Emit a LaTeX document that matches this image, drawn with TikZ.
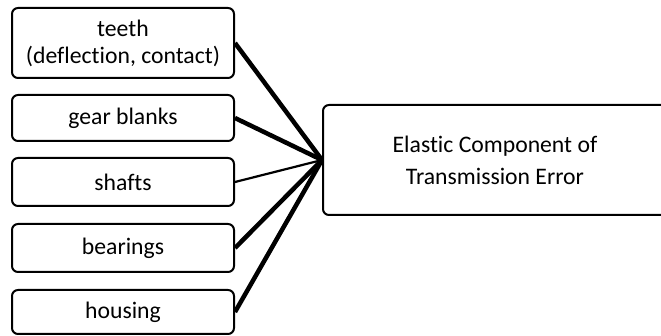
\documentclass[tikz,border=0pt]{standalone}
\usepackage{fontspec}
\setmainfont{Carlito}[Ligatures=NoCommon]
\begin{document}
\begin{tikzpicture}[x=1pt,y=-1pt,
  box/.style={draw, line width=2pt, rounded corners=6pt, fill=white,
    minimum width=222pt, inner sep=0pt, align=center,
    font=\fontsize{23.7}{27}\selectfont},
  strong/.style={line width=4.5pt},
  light/.style={line width=2.2pt}]
\useasboundingbox (0,0) rectangle (661,336);
% factors on the left
\node[box, minimum height=70pt] (teeth) at (123,43) {teeth\\(deflection, contact)};
\node[box, minimum height=46pt] (blanks) at (123,118) {gear blanks};
\node[box, minimum height=48pt] (shafts) at (123,182) {shafts};
\node[box, minimum height=48pt] (bearings) at (123,248) {bearings};
\node[box, minimum height=44pt] (housing) at (123,312) {housing};
% resulting quantity on the right
\node[box, minimum width=344pt, minimum height=110pt,
  font=\fontsize{23.7}{32}\selectfont] (te) at (495,160)
  {Elastic Component of\\Transmission Error};
\coordinate (hub) at (te.west);
% connectors converging on the west side of the right box
\draw[strong] (teeth.east) -- (hub);
\draw[strong] (blanks.east) -- (hub);
\draw[light] (shafts.east) -- (hub);
\draw[strong] (bearings.east) -- (hub);
\draw[strong] (housing.east) -- (hub);
\end{tikzpicture}
\end{document}
